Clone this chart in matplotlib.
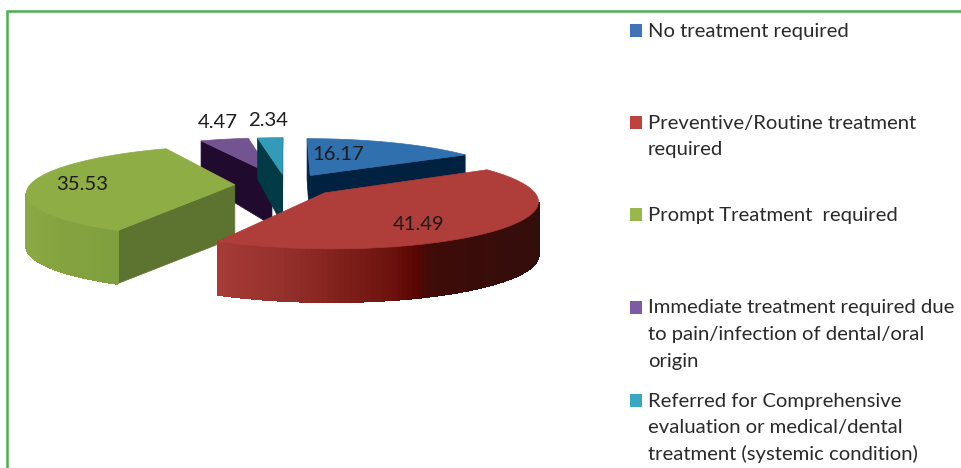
# plot.py
# exploded 3d pie of treatment need, drawn by hand since mpl has no 3d pie

import numpy as np
import matplotlib
matplotlib.use("Agg")
import matplotlib.pyplot as plt
from matplotlib.patches import Polygon, Rectangle

plt.rcParams["font.family"] = ["Lato", "DejaVu Sans"]

CATEGORIES = [
    "No treatment required",
    "Preventive/Routine treatment\nrequired",
    "Prompt Treatment  required",
    "Immediate treatment required due\nto pain/infection of dental/oral\norigin",
    "Referred for Comprehensive\nevaluation or medical/dental\ntreatment (systemic condition)",
]
VALUES = [16.17, 41.49, 35.53, 4.47, 2.34]
VALUE_LABELS = ["16.17", "41.49", "35.53", "4.47", "2.34"]

TOP_COLORS = ["#3170ae", "#af3d39", "#8fad45", "#735390", "#339bb8"]
CUT_COLORS = ["#00213f", "#3a0d0a", "#5c742f", "#200a2e", "#003a45"]
LEGEND_COLORS = ["#3f75b8", "#c0423f", "#98b84c", "#7d5aa3", "#38a6c4"]
LABEL_POS = [(338, 155), (419, 225), (82, 185), (218, 122), (268, 120)]
LEGEND_Y = [31, 123, 215, 308, 401]

# wall shading along screen x, only red and green show a wall
WALL_X = {1: [219, 300, 390, 415, 430, 535], 2: [25, 60, 119]}
WALL_COLORS = {
    1: ["#a63b36", "#8f2c28", "#6d120d", "#590503", "#3e0c09", "#330d0a"],
    2: ["#8baa45", "#84a340", "#7f9e3d"],
}

# projection of the pie plane onto the picture
CX, CY = 286, 185
RX, RY = 205, 45
PERSP = 0.15
DEPTH = 53
EXPLODE = 0.25
DRAW_ORDER = [3, 4, 0, 2, 1]


def project(u, v):
    w = 1 + PERSP * v
    # far side walls look shorter, near side stays about the same
    return CX + RX * u / w, CY - RY * v / w, min(DEPTH, DEPTH - 10 * v)


def faces_viewer(a, b, inside):
    # wall below edge a-b shows if the slice top lies above that edge
    ex, ey = b[0] - a[0], b[1] - a[1]
    side_in = ex * (inside[1] - a[1]) - ey * (inside[0] - a[0])
    side_down = ex
    return side_in * side_down < 0


def quad(a, b):
    return [(a[0], a[1]), (b[0], b[1]), (b[0], b[1] + b[2]), (a[0], a[1] + a[2])]


def wall_color(i, x):
    rgb = np.array([matplotlib.colors.to_rgb(c) for c in WALL_COLORS[i]])
    return [np.interp(x, WALL_X[i], rgb[:, k]) for k in range(3)]


def draw_slice(ax, i, start, end):
    mid = np.radians((start + end) / 2)
    ou, ov = EXPLODE * np.sin(mid), EXPLODE * np.cos(mid)
    th = np.radians(np.linspace(start, end, 120))
    rim = [project(ou + np.sin(t), ov + np.cos(t)) for t in th]
    apex = project(ou, ov)
    inside = project(ou + 0.5 * np.sin(mid), ov + 0.5 * np.cos(mid))

    for edge in (rim[0], rim[-1]):
        if faces_viewer(apex, edge, inside):
            ax.add_patch(Polygon(quad(apex, edge), fc=CUT_COLORS[i], ec=CUT_COLORS[i], lw=0.5))

    if i in WALL_X:
        for a, b in zip(rim[:-1], rim[1:]):
            if faces_viewer(a, b, apex):
                c = wall_color(i, (a[0] + b[0]) / 2)
                ax.add_patch(Polygon(quad(a, b), fc=c, ec=c, lw=1.0, antialiased=False))

    top = [(apex[0], apex[1])] + [(p[0], p[1]) for p in rim]
    ax.add_patch(Polygon(top, fc=TOP_COLORS[i], ec=TOP_COLORS[i], lw=0.5))


def main():
    fig = plt.figure(figsize=(9.62, 4.68), dpi=100)
    ax = fig.add_axes([0, 0, 1, 1])
    ax.set_xlim(0, 962)
    ax.set_ylim(468, 0)
    ax.axis("off")

    # green frame, open at right and bottom
    ax.plot([7, 7, 962], [468, 11, 11], color="#4cb050", lw=1.8, solid_joinstyle="miter")

    edges = np.concatenate([[0], np.cumsum(VALUES)]) / np.sum(VALUES) * 360
    for i in DRAW_ORDER:
        draw_slice(ax, i, edges[i], edges[i + 1])

    for label, (x, y) in zip(VALUE_LABELS, LABEL_POS):
        ax.text(x, y, label, ha="center", va="center", fontsize=14.6, color="#1c1c1c")

    for name, color, y in zip(CATEGORIES, LEGEND_COLORS, LEGEND_Y):
        ax.add_patch(Rectangle((630, y - 7), 12.5, 12.5, fc=color, ec="none"))
        for n, line in enumerate(name.split("\n")):
            ax.text(648, y + n * 26.5, line, ha="left", va="center", fontsize=14.6, color="#2a2a2a")

    fig.savefig("out.png", dpi=100)


if __name__ == "__main__":
    main()
